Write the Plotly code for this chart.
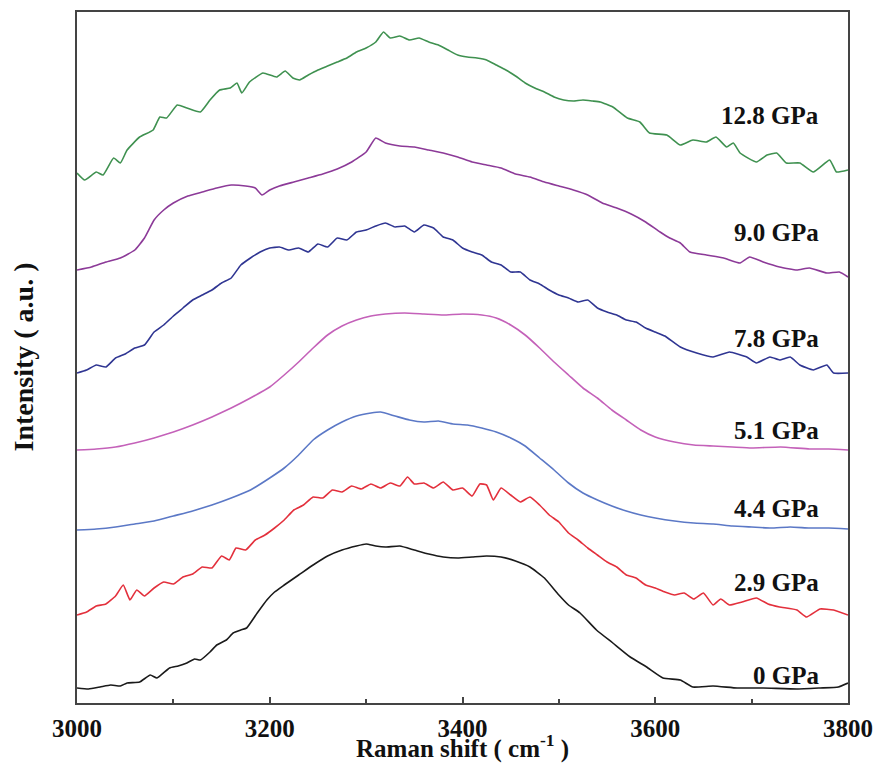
import plotly.graph_objects as go

# ---------------- data (Raman shift in cm^-1, intensity in a.u., curves already stacked) ----------------
x_0 = [3000, 3012, 3024, 3035, 3045, 3052, 3065, 3076, 3083, 3096, 3105, 3114, 3122, 3128, 3138, 3145, 3155,
       3162, 3170, 3176, 3187, 3197, 3205, 3215, 3230, 3245, 3260, 3275, 3290, 3300, 3310, 3320, 3335, 3350,
       3365, 3380, 3395, 3410, 3425, 3440, 3455, 3470, 3485, 3500, 3510, 3522, 3539, 3556, 3574, 3591, 3608,
       3626, 3639, 3660, 3685, 3712, 3747, 3771, 3790, 3800]
y_0 = [15, 14, 16, 18, 17, 20, 21, 28, 25, 35, 37, 40, 44, 43, 51, 58, 63,
       70, 73, 75, 90, 103, 111, 118, 128, 138, 147, 153, 157, 159, 157, 156, 157, 153,
       149, 146, 145, 146, 147, 146, 142, 136, 125, 108, 98, 90, 73, 60, 46, 36, 25,
       23, 16, 17, 15, 15, 14, 15, 16, 20]

x_29 = [3000, 3010, 3020, 3030, 3040, 3048, 3055, 3062, 3070, 3080, 3090, 3100, 3110, 3120, 3130, 3140, 3150,
        3158, 3165, 3175, 3185, 3195, 3205, 3215, 3225, 3235, 3245, 3255, 3265, 3275, 3285, 3295, 3305, 3315,
        3325, 3335, 3343, 3350, 3360, 3370, 3380, 3390, 3400, 3410, 3418, 3425, 3432, 3440, 3450, 3460, 3470,
        3480, 3490, 3500, 3510, 3520, 3530, 3540, 3550, 3560, 3570, 3580, 3590, 3600, 3610, 3620, 3630, 3640,
        3650, 3660, 3668, 3677, 3690, 3705, 3717, 3729, 3747, 3757, 3771, 3785, 3800]
y_29 = [88, 91, 97, 99, 107, 118, 103, 113, 107, 115, 121, 119, 126, 129, 136, 135, 147,
        143, 155, 153, 163, 168, 175, 183, 193, 198, 206, 205, 213, 211, 217, 214, 219, 215,
        220, 217, 226, 219, 220, 215, 221, 213, 215, 207, 219, 218, 203, 215, 208, 201, 206,
        198, 188, 181, 170, 163, 155, 148, 141, 136, 128, 125, 118, 115, 111, 108, 110, 104,
        110, 98, 104, 98, 101, 105, 99, 96, 93, 86, 94, 93, 88]

x_44 = [3000, 3020, 3040, 3060, 3080, 3100, 3120, 3140, 3160, 3180, 3200, 3215, 3230, 3245, 3260, 3275, 3290,
        3305, 3315, 3330, 3345, 3360, 3375, 3390, 3405, 3420, 3435, 3450, 3465, 3480, 3495, 3510, 3525, 3540,
        3555, 3570, 3585, 3600, 3620, 3640, 3660, 3680, 3700, 3720, 3740, 3760, 3780, 3800]
y_44 = [173, 174, 176, 179, 182, 187, 192, 198, 205, 213, 225, 235, 248, 263, 273, 281, 287,
        290, 291, 287, 283, 281, 282, 279, 278, 275, 271, 265, 257, 245, 233, 220, 210, 203,
        197, 192, 188, 185, 182, 180, 179, 177, 176, 175, 176, 175, 175, 174]

x_51 = [3000, 3020, 3040, 3060, 3080, 3100, 3120, 3140, 3160, 3180, 3200, 3215, 3230, 3245, 3260, 3275, 3290,
        3305, 3320, 3340, 3360, 3380, 3400, 3420, 3435, 3450, 3465, 3480, 3495, 3510, 3525, 3540, 3555, 3570,
        3585, 3600, 3620, 3640, 3660, 3680, 3700, 3730, 3760, 3780, 3800]
y_51 = [253, 254, 256, 260, 265, 271, 278, 286, 295, 305, 316, 328, 341, 355, 368, 377, 383,
        387, 389, 390, 389, 388, 389, 388, 385, 378, 368, 355, 341, 328, 315, 305, 293, 283,
        273, 266, 261, 258, 257, 256, 255, 256, 254, 254, 253]

x_78 = [3000, 3010, 3020, 3030, 3040, 3050, 3060, 3070, 3080, 3090, 3100, 3110, 3120, 3130, 3140, 3150, 3160,
        3170, 3180, 3190, 3200, 3210, 3220, 3230, 3240, 3250, 3260, 3270, 3280, 3290, 3300, 3310, 3320, 3330,
        3340, 3350, 3360, 3370, 3380, 3390, 3400, 3410, 3420, 3430, 3440, 3450, 3460, 3470, 3480, 3490, 3500,
        3510, 3520, 3530, 3540, 3550, 3560, 3570, 3580, 3590, 3600, 3610, 3626, 3643, 3660, 3677, 3695, 3705,
        3719, 3729, 3740, 3750, 3764, 3778, 3785, 3800]
y_78 = [330, 333, 338, 336, 345, 349, 355, 358, 371, 378, 387, 395, 403, 408, 413, 420, 425,
        438, 445, 451, 455, 456, 453, 455, 451, 459, 456, 465, 463, 471, 473, 477, 480, 476,
        477, 471, 478, 475, 466, 463, 455, 451, 448, 441, 438, 431, 431, 423, 419, 413, 408,
        405, 401, 403, 395, 391, 388, 383, 381, 375, 371, 367, 356, 350, 346, 351, 346, 340,
        346, 343, 346, 338, 333, 338, 330, 330]

x_90 = [3000, 3015, 3030, 3045, 3060, 3070, 3080, 3090, 3100, 3115, 3130, 3145, 3160, 3175, 3185, 3192, 3200,
        3210, 3225, 3240, 3255, 3270, 3285, 3300, 3310, 3320, 3335, 3350, 3365, 3380, 3395, 3410, 3425, 3440,
        3455, 3470, 3485, 3500, 3515, 3530, 3545, 3560, 3575, 3590, 3605, 3615, 3626, 3636, 3653, 3671, 3688,
        3698, 3712, 3729, 3747, 3760, 3778, 3791, 3800]
y_90 = [433, 436, 441, 445, 453, 465, 483, 493, 500, 507, 511, 515, 518, 517, 515, 508, 513,
        517, 521, 525, 529, 534, 541, 551, 565, 560, 557, 556, 553, 550, 546, 541, 538, 535,
        529, 526, 521, 517, 513, 508, 500, 495, 489, 481, 471, 465, 460, 451, 448, 445, 440,
        446, 441, 436, 433, 435, 430, 431, 426]

x_128 = [3000, 3008, 3020, 3027, 3038, 3045, 3052, 3065, 3079, 3086, 3093, 3104, 3114, 3128, 3138, 3148, 3159,
         3166, 3171, 3179, 3193, 3207, 3216, 3224, 3231, 3240, 3250, 3260, 3270, 3280, 3290, 3300, 3310, 3318,
         3325, 3335, 3345, 3355, 3365, 3375, 3385, 3395, 3405, 3415, 3425, 3435, 3445, 3455, 3465, 3475, 3485,
         3495, 3505, 3515, 3525, 3535, 3543, 3556, 3571, 3584, 3594, 3612, 3626, 3639, 3653, 3663, 3674, 3681,
         3688, 3705, 3716, 3726, 3736, 3750, 3764, 3781, 3788, 3800]
y_128 = [530, 523, 531, 528, 545, 540, 553, 566, 573, 586, 585, 598, 595, 591, 603, 613, 615,
         620, 610, 621, 630, 626, 632, 625, 623, 628, 633, 637, 641, 645, 651, 655, 661, 671,
         665, 667, 663, 665, 661, 658, 653, 648, 646, 645, 643, 638, 633, 627, 620, 615, 611,
         606, 603, 602, 603, 602, 601, 596, 585, 581, 570, 568, 558, 563, 561, 566, 556, 560,
         550, 541, 548, 550, 540, 540, 531, 543, 531, 533]

labels = ["0 GPa", "2.9 GPa", "4.4 GPa", "5.1 GPa", "7.8 GPa", "9.0 GPa", "12.8 GPa"]
xs = [x_0, x_29, x_44, x_51, x_78, x_90, x_128]
ys = [y_0, y_29, y_44, y_51, y_78, y_90, y_128]

# ---------------- styles ----------------
colors = ["#1a1a1a", "#e3303c", "#5b78c6", "#c461b9", "#2f3592", "#8c3a98", "#3f9150"]
label_y = [28, 121, 195, 273, 365, 471, 588]
label_x = 3772
FONT = "Liberation Serif"

fig = go.Figure()
for x, y, c, name in zip(xs, ys, colors, labels):
    fig.add_trace(go.Scatter(x=x, y=y, mode="lines", name=name,
                             line=dict(color=c, width=1.6, shape="spline", smoothing=0.4),
                             showlegend=False, hoverinfo="skip"))

annotations = []
for name, ly in zip(labels, label_y):
    annotations.append(dict(x=label_x, y=ly, xref="x", yref="y", text=name, showarrow=False,
                            xanchor="right", yanchor="middle",
                            font=dict(family=FONT, size=25, color="#111", weight="bold")))
annotations.append(dict(x=0.5, y=0, xref="paper", yref="paper", yshift=-62,
                        text="Raman shift ( cm<sup>-1</sup> )", showarrow=False,
                        xanchor="center", yanchor="bottom",
                        font=dict(family=FONT, size=25, color="#111", weight="bold")))
annotations.append(dict(x=0, y=0.5, xref="paper", yref="paper", xshift=-54,
                        text="Intensity ( a.u. )", showarrow=False, textangle=-90,
                        xanchor="center", yanchor="middle",
                        font=dict(family=FONT, size=28, color="#111", weight="bold")))

fig.update_layout(
    width=875, height=767,
    margin=dict(l=77, r=27, t=12, b=64, autoexpand=False),
    paper_bgcolor="white", plot_bgcolor="white",
    annotations=annotations,
    xaxis=dict(range=[3000, 3800], tick0=3000, dtick=200, ticks="inside", ticklen=6, tickwidth=1.5,
               tickcolor="#444", showline=True, linecolor="#444", linewidth=2, mirror=True,
               showgrid=False, zeroline=False, automargin=False, ticklabelstandoff=2,
               tickfont=dict(family=FONT, size=25, color="#111", weight="bold"),
               minor=dict(dtick=100, ticks="inside", ticklen=4, tickwidth=1.5, tickcolor="#444",
                          showgrid=False)),
    yaxis=dict(range=[0, 691], showticklabels=False, ticks="", showline=True, linecolor="#444",
               linewidth=2, mirror=True, showgrid=False, zeroline=False, automargin=False),
)

fig.write_html("out.html")
